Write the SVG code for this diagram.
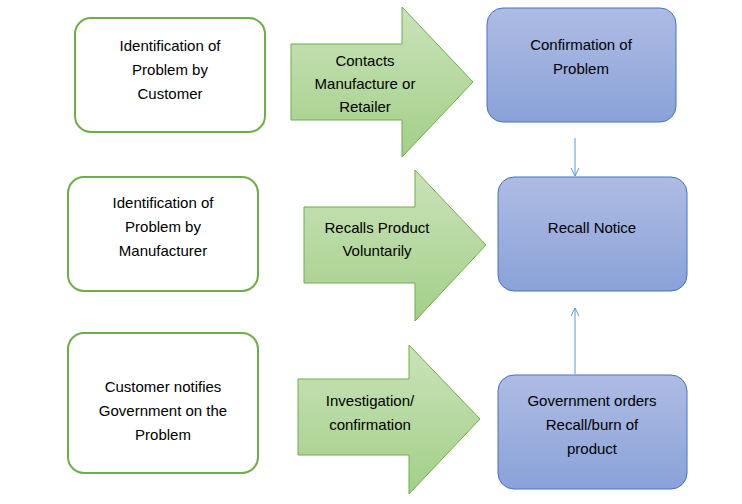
<svg xmlns="http://www.w3.org/2000/svg" width="742" height="504" viewBox="0 0 742 504">
<defs>
<linearGradient id="g" x1="0" y1="0" x2="0" y2="1"><stop offset="0" stop-color="#c9e3b9"/><stop offset="1" stop-color="#a3cf88"/></linearGradient>
<linearGradient id="b" x1="0" y1="0" x2="0" y2="1"><stop offset="0" stop-color="#aebce3"/><stop offset="1" stop-color="#8aa2d9"/></linearGradient>
<marker id="m" markerWidth="10" markerHeight="10" refX="9" refY="5" orient="auto" markerUnits="userSpaceOnUse"><path d="M1,1 L9,5 L1,9" fill="none" stroke="#5b9bd5" stroke-width="1"/></marker>
<style>
.l{fill:#fff;stroke:#70ad47;stroke-width:2}
.a{fill:url(#g);stroke:#70ad47;stroke-width:1}
.r{fill:url(#b);stroke:#4472c4;stroke-width:1}
text{font-family:"Liberation Sans",Arial,sans-serif;font-size:15px;fill:#000;text-anchor:middle}
</style>
</defs>
<rect width="742" height="504" fill="#fff"/>
<g id="n1"><rect class="l" x="75" y="18" width="190" height="114" rx="16"/><text x="170" y="51">Identification of</text><text x="170" y="75">Problem by</text><text x="170" y="99">Customer</text></g>
<g id="n2"><rect class="l" x="68" y="177" width="190" height="114" rx="16"/><text x="163" y="208">Identification of</text><text x="163" y="232">Problem by</text><text x="163" y="256">Manufacturer</text></g>
<g id="n3"><rect class="l" x="68" y="333" width="190" height="140" rx="16"/><text x="163" y="392">Customer notifies</text><text x="163" y="416">Government on the</text><text x="163" y="440">Problem</text></g>
<g id="a1"><path class="a" d="M291,44 H402 V7 L473,82 L402,157 V120 H291 Z"/><text x="365" y="66">Contacts</text><text x="365" y="89">Manufacture or</text><text x="365" y="112">Retailer</text></g>
<g id="a2"><path class="a" d="M304,207 H415 V170 L486,245 L415,321 V283 H304 Z"/><text x="377" y="233">Recalls Product</text><text x="377" y="256">Voluntarily</text></g>
<g id="a3"><path class="a" d="M298,379 H409 V345 L480,419 L409,494 V455 H298 Z"/><text x="370" y="406">Investigation/</text><text x="370" y="430">confirmation</text></g>
<g id="r1"><rect class="r" x="487" y="8" width="189" height="114" rx="16"/><text x="581" y="50">Confirmation of</text><text x="581" y="74">Problem</text></g>
<g id="r2"><rect class="r" x="498" y="177" width="189" height="114" rx="16"/><text x="592" y="233">Recall Notice</text></g>
<g id="r3"><rect class="r" x="498" y="375" width="189" height="114" rx="16"/><text x="592" y="406">Government orders</text><text x="592" y="430">Recall/burn of</text><text x="592" y="454">product</text></g>
<g id="connectors" stroke="#5b9bd5" stroke-width="1" fill="none">
<line x1="575" y1="138" x2="575" y2="176" marker-end="url(#m)"/>
<line x1="575" y1="374" x2="575" y2="308" marker-end="url(#m)"/>
</g>
</svg>
